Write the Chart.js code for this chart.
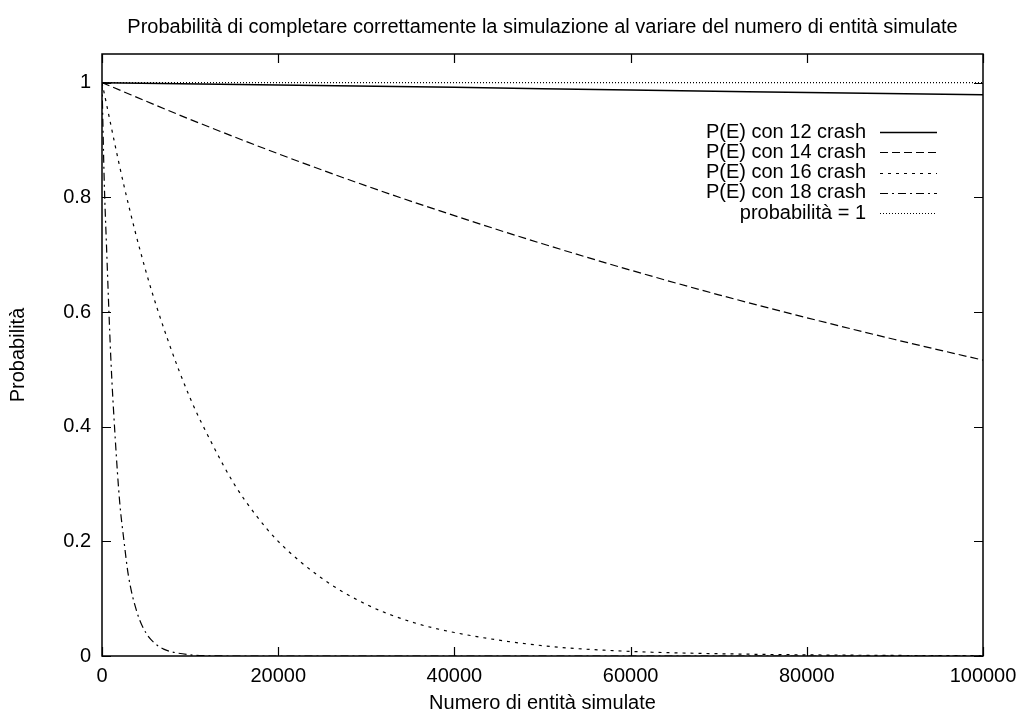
<!DOCTYPE html>
<html>
<head>
<meta charset="utf-8">
<script src="https://cdn.jsdelivr.net/npm/chart.js@4.4.1/dist/chart.umd.min.js"></script>
<style>
  body { margin: 0; background: #fff; }
  canvas { display: block; }
</style>
</head>
<body>
<canvas id="probChart" width="1020" height="713"></canvas>
<script>
// values
const xTicks = [0, 20000, 40000, 60000, 80000, 100000];
const yTicks = [0, 0.2, 0.4, 0.6, 0.8, 1];

const x12 = [0, 20000, 40000, 60000, 80000, 100000];
const p12 = [1, 0.996, 0.992, 0.987, 0.983, 0.979];

const x14 = [0, 10000, 20000, 30000, 40000, 50000, 60000, 70000, 80000, 90000, 100000];
const p14 = [1, 0.936, 0.876, 0.82, 0.768, 0.719, 0.673, 0.63, 0.59, 0.552, 0.516];

const x16 = [0, 2500, 5000, 7500, 10000, 12500, 15000, 17500, 20000, 25000, 30000, 35000, 40000, 50000, 60000, 70000, 80000, 90000, 100000];
const p16 = [1, 0.82, 0.67, 0.55, 0.45, 0.37, 0.30, 0.245, 0.20, 0.135, 0.09, 0.06, 0.041, 0.018, 0.008, 0.004, 0.002, 0.001, 0.0005];

const x18 = [0, 250, 500, 1000, 1500, 2000, 2500, 3000, 4000, 5000, 6000, 7000, 8000, 10000, 12000, 15000, 100000];
const p18 = [1, 0.83, 0.72, 0.52, 0.38, 0.27, 0.20, 0.14, 0.075, 0.04, 0.022, 0.012, 0.007, 0.002, 0.0005, 0, 0];

const xOne = [0, 100000];
const pOne = [1, 1];

const labels = ['P(E) con 12 crash', 'P(E) con 14 crash', 'P(E) con 16 crash', 'P(E) con 18 crash', 'probabilità = 1'];

const FONT = '"Liberation Sans", Arial, Helvetica, sans-serif';
const FS = 20;

function toPoints(xs, ys) {
    return xs.map((x, i) => ({ x: x, y: ys[i] }));
}

function series(label, xs, ys, dash, width) {
    return {
        label: label,
        data: toPoints(xs, ys),
        borderColor: '#000',
        borderWidth: width || 1.2,
        borderDash: dash,
        pointRadius: 0,
        fill: false,
        cubicInterpolationMode: 'monotone'
    };
}

// gnuplot style frame: full border, inward ticks on all sides, key top right
const gnuplotFrame = {
    id: 'gnuplotFrame',
    afterDatasetsDraw(chart) {
        const ctx = chart.ctx;
        const a = chart.chartArea;
        const xs = chart.scales.x, ys = chart.scales.y;
        const tl = 9;
        ctx.save();
        ctx.strokeStyle = '#000';
        ctx.lineWidth = 1.5;
        ctx.setLineDash([]);
        ctx.strokeRect(a.left, a.top, a.right - a.left, a.bottom - a.top);
        ctx.lineWidth = 1.2;
        ctx.beginPath();
        xTicks.forEach(v => {
            const px = Math.round(xs.getPixelForValue(v)) + 0.5;
            ctx.moveTo(px, a.bottom); ctx.lineTo(px, a.bottom - tl);
            ctx.moveTo(px, a.top); ctx.lineTo(px, a.top + tl);
        });
        yTicks.forEach(v => {
            const py = Math.round(ys.getPixelForValue(v)) + 0.5;
            ctx.moveTo(a.left, py); ctx.lineTo(a.left + tl, py);
            ctx.moveTo(a.right, py); ctx.lineTo(a.right - tl, py);
        });
        ctx.stroke();

        // key
        ctx.font = FS + 'px ' + FONT;
        ctx.fillStyle = '#000';
        ctx.textAlign = 'right';
        ctx.textBaseline = 'middle';
        chart.data.datasets.forEach((ds, i) => {
            const y = 132 + i * 20.3;
            ctx.fillText(ds.label, 866, y);
            ctx.beginPath();
            ctx.lineWidth = ds.borderWidth;
            ctx.setLineDash(ds.borderDash || []);
            ctx.moveTo(880, Math.round(y) + 0.5);
            ctx.lineTo(937, Math.round(y) + 0.5);
            ctx.stroke();
        });
        ctx.restore();
    }
};

const ctx = document.getElementById('probChart').getContext('2d');
const probChart = new Chart(ctx, {
    type: 'line',
    data: {
        datasets: [
            series(labels[0], x12, p12, [], 1.5),
            series(labels[1], x14, p14, [8, 4]),
            series(labels[2], x16, p16, [3, 5]),
            series(labels[3], x18, p18, [8, 4, 2, 4]),
            series(labels[4], xOne, pOne, [1, 2])
        ]
    },
    options: {
        responsive: false,
        animation: false,
        layout: { padding: { left: 0, right: 37, top: 0, bottom: 0 } },
        plugins: {
            legend: { display: false },
            tooltip: { enabled: false },
            title: {
                display: true,
                fullSize: false,
                text: 'Probabilità di completare correttamente la simulazione al variare del numero di entità simulate',
                color: '#000',
                font: { family: FONT, size: FS, weight: 'normal', lineHeight: 1.2 },
                padding: { top: 15, bottom: 15 }
            }
        },
        scales: {
            x: {
                type: 'linear',
                min: 0,
                max: 100000,
                afterBuildTicks: scale => { scale.ticks = xTicks.map(v => ({ value: v })); },
                afterFit: scale => { scale.height = 57; scale.paddingLeft = 0; scale.paddingRight = 0; },
                grid: { drawOnChartArea: false, drawTicks: false },
                border: { display: false },
                ticks: {
                    color: '#000',
                    padding: 8,
                    maxRotation: 0,
                    font: { family: FONT, size: FS },
                    callback: value => String(value)
                },
                title: {
                    display: true,
                    text: 'Numero di entità simulate',
                    color: '#000',
                    font: { family: FONT, size: FS, lineHeight: 1 },
                    padding: { top: 0, bottom: 0 }
                }
            },
            y: {
                min: 0,
                max: 1.05,
                afterBuildTicks: scale => { scale.ticks = yTicks.map(v => ({ value: v })); },
                afterFit: scale => { scale.width = 102; },
                grid: { drawOnChartArea: false, drawTicks: false },
                border: { display: false },
                ticks: {
                    color: '#000',
                    padding: 11,
                    font: { family: FONT, size: FS },
                    callback: value => String(Math.round(value * 10) / 10)
                },
                title: {
                    display: true,
                    text: 'Probabilità',
                    color: '#000',
                    font: { family: FONT, size: FS, lineHeight: 1 },
                    padding: { top: 8, bottom: 0 }
                }
            }
        }
    },
    plugins: [gnuplotFrame]
});
</script>
</body>
</html>
